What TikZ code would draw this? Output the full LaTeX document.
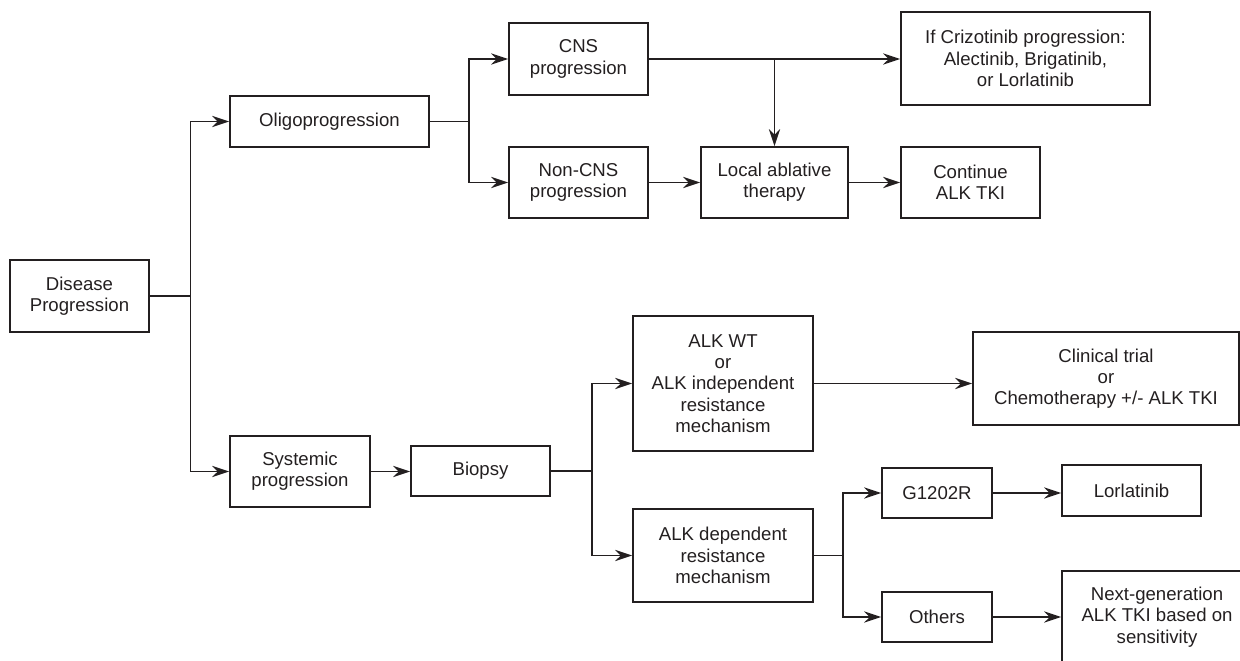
\documentclass[tikz,border=0pt]{standalone}
\usepackage{fontspec}
\setmainfont{Liberation Sans}
\usetikzlibrary{arrows.meta}
\definecolor{ink}{RGB}{35,31,32}
\begin{document}
\begin{tikzpicture}[x=0.5pt,y=-0.5pt,
  box/.style={draw=ink, line width=0.85pt, text=ink, align=center, inner sep=0pt,
    font=\fontsize{9.3}{10.65}\selectfont},
  arr/.style={draw=ink, line width=0.85pt, -{Stealth[length=8.5pt,width=5.6pt,inset=2.8pt]}},
  ln/.style={draw=ink, line width=0.85pt}]
\clip (0,0) rectangle (1240,660);
% nodes
\node[box, minimum width=69.5pt, minimum height=36pt] (dis) at (79.5,296) {Disease\\Progression};
\node[box, minimum width=99.5pt, minimum height=25.5pt] (oligo) at (329.5,121.5) {Oligoprogression};
\node[box, minimum width=70pt, minimum height=35.5pt] (sys) at (300,471.5) {Systemic\\progression};
\node[box, minimum width=69.5pt, minimum height=36pt] (cns) at (578.5,59) {CNS\\progression};
\node[box, minimum width=69.5pt, minimum height=35.5pt] (noncns) at (578.5,182.5) {Non-CNS\\progression};
\node[box, minimum width=73.5pt, minimum height=35.5pt] (lat) at (774.5,182.5) {Local ablative\\therapy};
\node[box, minimum width=69.5pt, minimum height=35.5pt] (cont) at (970.5,182.5) {Continue\\ALK TKI};
\node[box, minimum width=124.5pt, minimum height=46.5pt] (ifc) at (1025.5,58.5) {If Crizotinib progression:\\Alectinib, Brigatinib,\\or Lorlatinib};
\node[box, minimum width=69.5pt, minimum height=25pt] (bio) at (480.5,471) {Biopsy};
\node[box, minimum width=90pt, minimum height=67.5pt] (wt) at (723,383.5) {ALK WT\\or\\ALK independent\\resistance\\mechanism};
\node[box, minimum width=90pt, minimum height=46.5pt] (dep) at (723,555.5) {ALK dependent\\resistance\\mechanism};
\node[box, minimum width=133pt, minimum height=46.5pt] (clin) at (1106,378.5) {Clinical trial\\or\\Chemotherapy +/- ALK TKI};
\node[box, minimum width=55pt, minimum height=25pt] (g12) at (937,493) {G1202R};
\node[box, minimum width=69.5pt, minimum height=25.5pt] (lor) at (1131.5,490.5) {Lorlatinib};
\node[box, minimum width=55pt, minimum height=25pt] (oth) at (937,617) {Others};
\node[box, minimum width=95pt, minimum height=46pt] (nxt) at (1157,617) {Next-generation\\ALK TKI based on\\sensitivity};
% connectors
\draw[ln] (dis.east) -- ++(40.5,0) coordinate (j1);
\draw[arr] (j1) |- (oligo.west);
\draw[arr] (j1) |- (sys.west);
\draw[ln] (oligo.east) -- ++(39,0) coordinate (j2);
\draw[arr] (j2) |- (cns.west);
\draw[arr] (j2) |- (noncns.west);
\draw[arr] (cns.east) -- (cns.east -| ifc.west);
\draw[arr] (cns.east -| lat.north) -- (lat.north);
\draw[arr] (noncns.east) -- (lat.west);
\draw[arr] (lat.east) -- (cont.west);
\draw[arr] (sys.east) -- (sys.east -| bio.west);
\draw[ln] (bio.east) -- ++(41,0) coordinate (j3);
\draw[arr] (j3) |- (wt.west);
\draw[arr] (j3) |- (dep.west);
\draw[arr] (wt.east) -- (wt.east -| clin.west);
\draw[ln] (dep.east) -- ++(29,0) coordinate (j4);
\draw[arr] (j4) |- (g12.west);
\draw[arr] (j4) |- (oth.west);
\draw[arr] (g12.east) -- (g12.east -| lor.west);
\draw[arr] (oth.east) -- (nxt.west);
\end{tikzpicture}
\end{document}
